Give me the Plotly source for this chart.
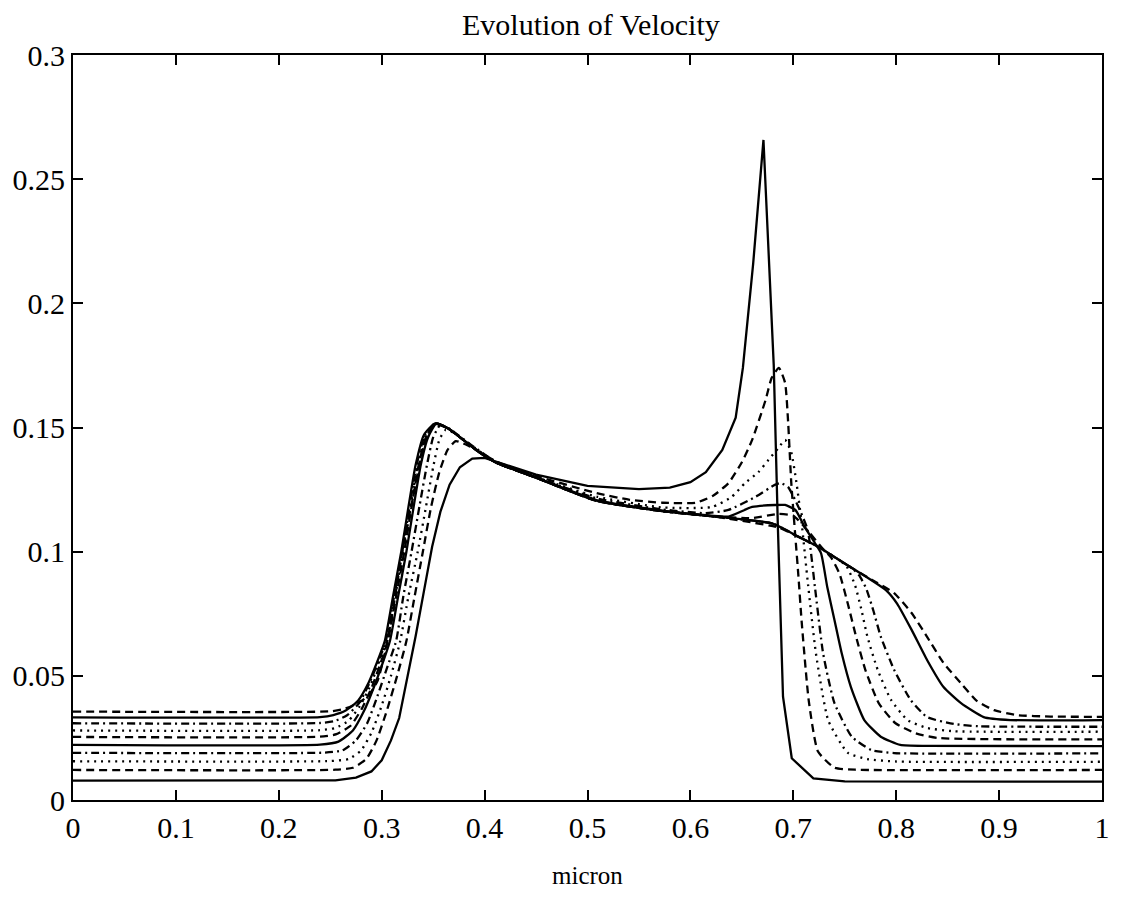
import plotly.graph_objects as go

# ---- axis ticks ----
x_ticks = [0, 0.1, 0.2, 0.3, 0.4, 0.5, 0.6, 0.7, 0.8, 0.9, 1.0]
x_tick_labels = ["0", "0.1", "0.2", "0.3", "0.4", "0.5", "0.6", "0.7", "0.8", "0.9", "1"]
y_ticks = [0, 0.05, 0.1, 0.15, 0.2, 0.25, 0.3]
y_tick_labels = ["0", "0.05", "0.1", "0.15", "0.2", "0.25", "0.3"]

# ---- curves ----
c1_x = [0, 0.255, 0.275, 0.29, 0.30, 0.309, 0.317, 0.325, 0.333, 0.341, 0.349, 0.357, 0.366, 0.376, 0.388, 0.400, 0.412, 0.45, 0.50, 0.55, 0.58, 0.60, 0.615, 0.631, 0.644, 0.651, 0.661, 0.671, 0.681, 0.685, 0.690, 0.6985, 0.7195, 0.75, 1.0]
c1_y = [0.0078, 0.0079, 0.0090, 0.0115, 0.016, 0.024, 0.033, 0.049, 0.066, 0.084, 0.102, 0.116, 0.127, 0.134, 0.1375, 0.1378, 0.1362, 0.131, 0.1265, 0.1252, 0.1258, 0.128, 0.132, 0.141, 0.154, 0.174, 0.216, 0.2658, 0.175, 0.110, 0.0416, 0.0168, 0.0087, 0.0075, 0.0074]

c2_x = [0, 0.255, 0.272, 0.285, 0.295, 0.305, 0.315, 0.324, 0.332, 0.340, 0.348, 0.356, 0.364, 0.372, 0.385, 0.40, 0.412, 0.45, 0.5087, 0.541, 0.573, 0.605, 0.622, 0.637, 0.650, 0.660, 0.673, 0.679, 0.686, 0.692, 0.695, 0.698, 0.702, 0.705, 0.708, 0.715, 0.724, 0.740, 0.76, 1.0]
c2_y = [0.0121, 0.0122, 0.013, 0.0165, 0.024, 0.036, 0.050, 0.064, 0.082, 0.100, 0.118, 0.132, 0.141, 0.1445, 0.1425, 0.139, 0.1362, 0.1305, 0.1236, 0.1209, 0.1197, 0.1197, 0.1225, 0.1276, 0.136, 0.145, 0.161, 0.170, 0.174, 0.168, 0.152, 0.128, 0.106, 0.090, 0.0725, 0.040, 0.0195, 0.013, 0.0122, 0.0121]

c3_x = [0, 0.25, 0.268, 0.28, 0.29, 0.30, 0.309, 0.318, 0.326, 0.335, 0.343, 0.350, 0.356, 0.362, 0.372, 0.385, 0.40, 0.412, 0.45, 0.5087, 0.573, 0.621, 0.64, 0.653, 0.666, 0.676, 0.686, 0.692, 0.698, 0.703, 0.708, 0.714, 0.722, 0.734, 0.753, 0.772, 0.80, 1.0]
c3_y = [0.0156, 0.0157, 0.0165, 0.020, 0.027, 0.038, 0.050, 0.064, 0.082, 0.100, 0.118, 0.134, 0.145, 0.149, 0.1475, 0.1435, 0.139, 0.1358, 0.130, 0.1222, 0.1178, 0.118, 0.122, 0.1276, 0.132, 0.137, 0.142, 0.145, 0.140, 0.128, 0.112, 0.088, 0.059, 0.032, 0.019, 0.0165, 0.0155, 0.0154]

c4_x = [0, 0.245, 0.262, 0.275, 0.286, 0.296, 0.305, 0.314, 0.321, 0.329, 0.337, 0.344, 0.350, 0.357, 0.366, 0.38, 0.40, 0.412, 0.45, 0.5087, 0.573, 0.615, 0.637, 0.663, 0.682, 0.688, 0.695, 0.705, 0.714, 0.721, 0.729, 0.740, 0.757, 0.776, 0.798, 1.0]
c4_y = [0.019, 0.0191, 0.020, 0.024, 0.031, 0.042, 0.053, 0.064, 0.082, 0.100, 0.119, 0.135, 0.146, 0.151, 0.1495, 0.145, 0.1392, 0.1357, 0.130, 0.1215, 0.117, 0.1155, 0.1168, 0.122, 0.1269, 0.1276, 0.126, 0.118, 0.1087, 0.0858, 0.059, 0.039, 0.0254, 0.0201, 0.0189, 0.0188]

c5_x = [0, 0.24, 0.258, 0.272, 0.283, 0.292, 0.300, 0.308, 0.316, 0.324, 0.331, 0.338, 0.345, 0.353, 0.365, 0.38, 0.396, 0.412, 0.45, 0.5087, 0.573, 0.62, 0.637, 0.660, 0.682, 0.692, 0.702, 0.711, 0.721, 0.727, 0.733, 0.740, 0.747, 0.756, 0.769, 0.785, 0.804, 0.83, 1.0]
c5_y = [0.0222, 0.0223, 0.0235, 0.028, 0.036, 0.045, 0.054, 0.064, 0.082, 0.100, 0.118, 0.135, 0.146, 0.1515, 0.1495, 0.1448, 0.1397, 0.1357, 0.1298, 0.1208, 0.1165, 0.1145, 0.1141, 0.118, 0.1188, 0.1188, 0.1168, 0.110, 0.1035, 0.0993, 0.0858, 0.0725, 0.0592, 0.0455, 0.0322, 0.0255, 0.0222, 0.0218, 0.0217]

c6_x = [0, 0.24, 0.256, 0.27, 0.281, 0.29, 0.298, 0.306, 0.314, 0.322, 0.329, 0.336, 0.343, 0.352, 0.365, 0.38, 0.396, 0.412, 0.45, 0.5087, 0.573, 0.62, 0.66, 0.685, 0.70, 0.715, 0.727, 0.737, 0.745, 0.753, 0.761, 0.770, 0.783, 0.799, 0.818, 0.84, 1.0]
c6_y = [0.0254, 0.0255, 0.0265, 0.030, 0.037, 0.045, 0.054, 0.064, 0.082, 0.100, 0.118, 0.135, 0.146, 0.1515, 0.1495, 0.1448, 0.1397, 0.1357, 0.1298, 0.1205, 0.1163, 0.1143, 0.1135, 0.1152, 0.1145, 0.108, 0.102, 0.0975, 0.091, 0.079, 0.0658, 0.0524, 0.039, 0.031, 0.027, 0.025, 0.0244]

c7_x = [0, 0.24, 0.255, 0.268, 0.279, 0.289, 0.297, 0.305, 0.313, 0.321, 0.328, 0.335, 0.343, 0.352, 0.365, 0.38, 0.396, 0.412, 0.45, 0.5087, 0.573, 0.62, 0.68, 0.705, 0.724, 0.745, 0.752, 0.760, 0.766, 0.772, 0.782, 0.795, 0.811, 0.830, 0.856, 1.0]
c7_y = [0.028, 0.0281, 0.029, 0.032, 0.038, 0.046, 0.055, 0.064, 0.082, 0.100, 0.118, 0.135, 0.147, 0.1517, 0.1495, 0.1448, 0.1397, 0.1357, 0.1298, 0.1205, 0.1163, 0.1143, 0.1113, 0.106, 0.102, 0.0965, 0.094, 0.0865, 0.077, 0.0658, 0.0524, 0.0403, 0.0322, 0.029, 0.0277, 0.0275]

c8_x = [0, 0.24, 0.254, 0.266, 0.278, 0.288, 0.296, 0.304, 0.312, 0.320, 0.327, 0.334, 0.342, 0.352, 0.365, 0.38, 0.396, 0.412, 0.45, 0.5087, 0.573, 0.62, 0.68, 0.705, 0.724, 0.745, 0.757, 0.764, 0.771, 0.778, 0.785, 0.798, 0.814, 0.830, 0.856, 0.88, 1.0]
c8_y = [0.0309, 0.031, 0.0318, 0.034, 0.039, 0.047, 0.055, 0.064, 0.082, 0.100, 0.118, 0.135, 0.147, 0.1517, 0.1495, 0.1448, 0.1397, 0.1357, 0.1298, 0.1205, 0.1163, 0.1143, 0.1113, 0.106, 0.102, 0.0965, 0.0934, 0.0905, 0.085, 0.076, 0.0658, 0.0524, 0.0403, 0.0334, 0.0306, 0.0297, 0.0295]

c9_x = [0, 0.24, 0.253, 0.265, 0.277, 0.287, 0.295, 0.303, 0.311, 0.319, 0.326, 0.333, 0.341, 0.352, 0.365, 0.38, 0.396, 0.412, 0.45, 0.5087, 0.573, 0.62, 0.68, 0.705, 0.724, 0.757, 0.776, 0.790, 0.801, 0.815, 0.830, 0.846, 0.863, 0.885, 0.911, 1.0]
c9_y = [0.0333, 0.0334, 0.0342, 0.036, 0.040, 0.047, 0.055, 0.064, 0.082, 0.100, 0.118, 0.135, 0.147, 0.1517, 0.1495, 0.1448, 0.1397, 0.1357, 0.1298, 0.1205, 0.1163, 0.1143, 0.1113, 0.106, 0.102, 0.0934, 0.0885, 0.0845, 0.079, 0.0685, 0.0564, 0.0455, 0.039, 0.0334, 0.0322, 0.0322]

c10_x = [0, 0.25, 0.262, 0.275, 0.287, 0.296, 0.303, 0.309, 0.315, 0.320, 0.326, 0.332, 0.338, 0.345, 0.352, 0.365, 0.38, 0.396, 0.412, 0.45, 0.5087, 0.573, 0.62, 0.685, 0.705, 0.724, 0.757, 0.780, 0.798, 0.815, 0.830, 0.846, 0.863, 0.878, 0.895, 0.917, 0.95, 1.0]
c10_y = [0.0356, 0.0357, 0.0365, 0.0385, 0.042, 0.048, 0.059, 0.072, 0.087, 0.100, 0.113, 0.125, 0.138, 0.148, 0.1517, 0.1495, 0.1448, 0.1397, 0.1357, 0.1298, 0.1205, 0.1163, 0.1143, 0.1098, 0.106, 0.102, 0.0934, 0.0878, 0.0833, 0.0753, 0.0657, 0.0552, 0.047, 0.040, 0.0362, 0.0342, 0.0336, 0.0335]

curves = [(c1_x, c1_y), (c2_x, c2_y), (c3_x, c3_y), (c4_x, c4_y), (c5_x, c5_y),
          (c6_x, c6_y), (c7_x, c7_y), (c8_x, c8_y), (c9_x, c9_y), (c10_x, c10_y)]

# MATLAB-like line style cycle: solid, dashed, dotted, dash-dot
dash_cycle = ["solid", "8px,5px", "2px,5px", "8px,4px,2px,4px"]

fig = go.Figure()
for i, (xs, ys) in enumerate(curves):
    fig.add_trace(go.Scatter(
        x=xs, y=ys, mode="lines",
        line=dict(color="black", width=2.3, dash=dash_cycle[i % 4],
                  shape="linear" if i == 0 else "spline", smoothing=0.5),
        hoverinfo="skip", showlegend=False))

axis_common = dict(
    showline=True, linecolor="black", linewidth=2, mirror="ticks",
    ticks="inside", ticklen=10, tickwidth=2, tickcolor="black",
    showgrid=False, zeroline=False,
    tickfont=dict(family="Liberation Serif", size=30, color="black"),
)

fig.update_xaxes(range=[0, 1], tickvals=x_ticks, ticktext=x_tick_labels, **axis_common)
fig.update_yaxes(range=[0, 0.3], tickvals=y_ticks, ticktext=y_tick_labels, **axis_common)

fig.update_layout(
    width=1122, height=907,
    margin=dict(l=73, r=13, t=55, b=107),
    paper_bgcolor="white", plot_bgcolor="white",
    font=dict(family="Liberation Serif", color="black"),
    showlegend=False,
    annotations=[
        dict(text="Evolution of Velocity", xref="paper", yref="paper",
             x=0.503, y=1.0416, xanchor="center", yanchor="middle",
             showarrow=False, font=dict(family="Liberation Serif", size=30, color="black")),
        dict(text="micron", xref="paper", yref="paper",
             x=0.5, y=-0.101, xanchor="center", yanchor="middle",
             showarrow=False, font=dict(family="Liberation Serif", size=25, color="black")),
    ],
)

fig.write_html("out.html")
